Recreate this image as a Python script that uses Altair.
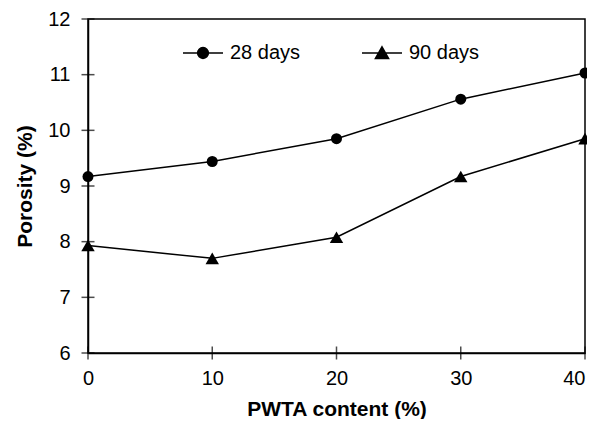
import altair as alt
import pandas as pd

content = [0, 10, 20, 30, 40]
days28 = [9.17, 9.44, 9.85, 10.56, 11.03]
days90 = [7.93, 7.70, 8.08, 9.17, 9.85]
series_names = ["28 days", "90 days"]
x_ticks = [0, 10, 20, 30, 40]
y_ticks = [6, 7, 8, 9, 10, 11, 12]

df = pd.DataFrame({
    "content": content * 2,
    "porosity": days28 + days90,
    "series": [series_names[0]] * len(content) + [series_names[1]] * len(content),
})
xt = pd.DataFrame({"t": x_ticks})
yt = pd.DataFrame({"t": y_ticks})

FONT = "Liberation Sans"
xscale = alt.Scale(domain=[0, 40], nice=False)
yscale = alt.Scale(domain=[6, 12], nice=False)

x_enc = alt.X("content:Q", scale=xscale,
              axis=alt.Axis(values=x_ticks, format="d", title="PWTA content (%)", tickSize=0,
                            labelPadding=15, titlePadding=10, grid=False, labelFlush=False,
                            labelOverlap=False,
                            labelAlign={"condition": {"test": "datum.value >= 40", "value": "right"},
                                        "value": "center"}))
y_enc = alt.Y("porosity:Q", scale=yscale,
              axis=alt.Axis(values=y_ticks, format="d", title="Porosity (%)", tickSize=0,
                            labelPadding=18, titlePadding=12, grid=False, labelFlush=False,
                            labelOverlap=False))

base = alt.Chart(df)

lines = base.mark_line(color="black", strokeWidth=1.5).encode(
    x=x_enc, y=y_enc, detail="series:N")

pts28 = base.transform_filter(alt.datum.series == series_names[0]).mark_point(
    shape="circle", size=121, filled=True, color="black", opacity=1).encode(x=x_enc, y=y_enc)
pts90 = base.transform_filter(alt.datum.series == series_names[1]).mark_point(
    shape="triangle-up", size=180, filled=True, color="black", opacity=1).encode(x=x_enc, y=y_enc)

circle_path = "M-1,0L1,0M-0.27,0A0.27,0.27,0,1,0,0.27,0A0.27,0.27,0,1,0,-0.27,0Z"
tri_path = "M-1,0L1,0M0,-0.31L0.33,0.28L-0.33,0.28Z"

leg = alt.Legend(title=None, orient="none", direction="horizontal",
                 legendX=94, legendY=13, symbolSize=1600,
                 symbolOpacity=1, symbolFillColor="black",
                 symbolStrokeColor="black", symbolStrokeWidth=1.5,
                 labelFont=FONT, labelFontSize=20, labelColor="black",
                 labelOffset=6, columnPadding=58, padding=0)

legend_layer = base.mark_point(filled=False, fill="black", strokeWidth=1.5, opacity=0).encode(
    x=x_enc, y=y_enc,
    shape=alt.Shape("series:N", scale=alt.Scale(domain=series_names,
                                                range=[circle_path, tri_path]), legend=leg),
    stroke=alt.Stroke("series:N", scale=alt.Scale(domain=series_names,
                                                  range=["black", "black"]), legend=leg),
)

xtick_layer = alt.Chart(xt).mark_tick(orient="vertical", color="black", size=13, thickness=1.5).encode(
    x=alt.X("t:Q", scale=xscale), y=alt.datum(6, scale=yscale))
ytick_layer = alt.Chart(yt).mark_tick(orient="horizontal", color="black", size=13, thickness=1.5).encode(
    y=alt.Y("t:Q", scale=yscale), x=alt.datum(0, scale=xscale))

chart = alt.layer(lines, pts28, pts90, legend_layer, xtick_layer, ytick_layer).properties(
    width=497, height=334,
    autosize=alt.AutoSizeParams(type="none"),
    padding={"left": 80, "top": 11, "right": 2, "bottom": 66},
).configure_view(
    stroke="black", strokeWidth=1.5
).configure_axis(
    domainColor="black", domainWidth=1.5,
    labelFont=FONT, labelFontSize=20, labelColor="black",
    titleFont=FONT, titleFontSize=21, titleFontWeight="bold", titleColor="black",
)

chart.save("out.html", embed_options={"renderer": "svg", "actions": False})
